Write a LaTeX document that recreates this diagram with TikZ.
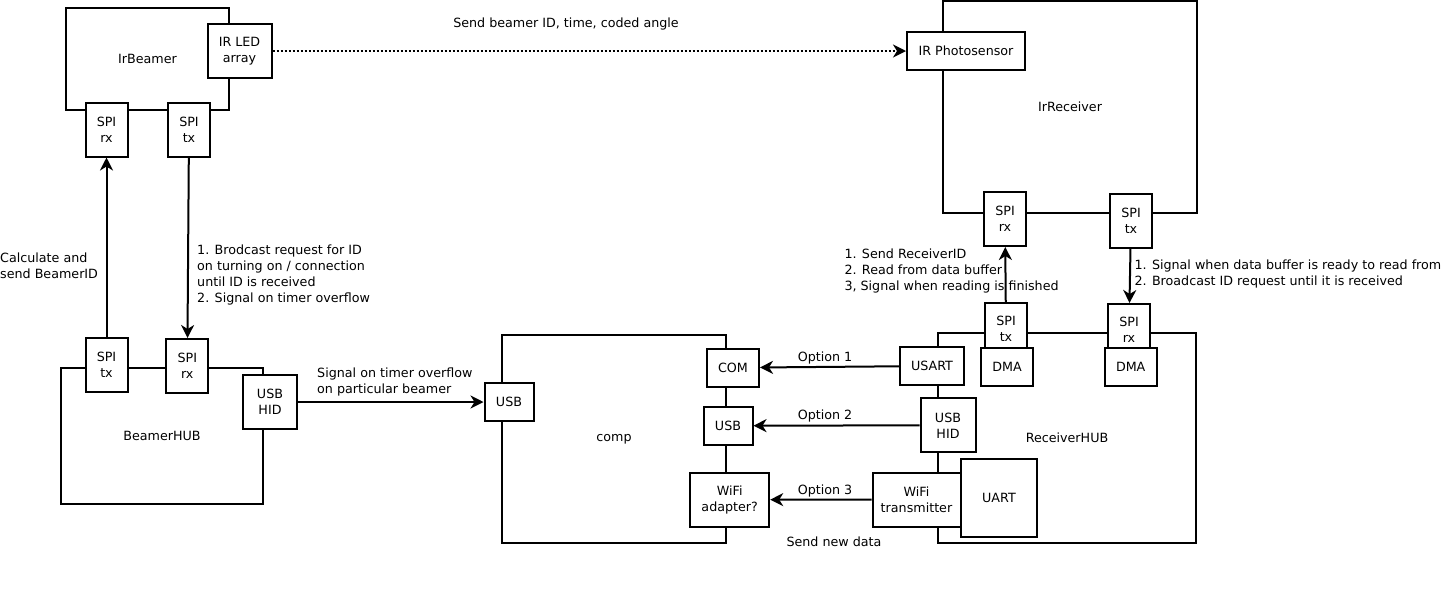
\documentclass[tikz,border=0pt]{standalone}
\usepackage{fontspec}
\setmainfont{DejaVu Sans}
\usetikzlibrary{arrows.meta}

\begin{document}
\begin{tikzpicture}[x=1pt,y=-1pt,>={Stealth[length=13pt,width=13pt,inset=4pt]},
 font=\fontsize{12.7}{16}\selectfont,
 blk/.style={draw,line width=2pt,inner sep=0pt},
 prt/.style={draw,line width=2pt,fill=white,inner sep=0pt,align=center},
 sig/.style={->,line width=2pt},
 lbl/.style={inner sep=0pt,align=left,anchor=west}]
\useasboundingbox (0,0) rectangle (1443,598);
% main units
\node[blk,minimum width=163pt,minimum height=102pt] (irbeamer) at (147.5,59) {IrBeamer};
\node[blk,minimum width=202pt,minimum height=136pt] (beamerhub) at (162,436) {BeamerHUB};
\node[blk,minimum width=224pt,minimum height=208pt] (comp) at (614,439) {comp};
\node[blk,minimum width=258pt,minimum height=210pt] (receiverhub) at (1067,438) {ReceiverHUB};
\node[blk,minimum width=254pt,minimum height=212pt] (irreceiver) at (1070,107) {IrReceiver};
% ports of IrBeamer and BeamerHUB
\node[prt,minimum width=64pt,minimum height=54pt] (irled) at (239.5,51) {IR LED\\array};
\node[prt,minimum width=42pt,minimum height=54pt] (bsrx) at (106.5,129.5) {SPI\\rx};
\node[prt,minimum width=42pt,minimum height=54pt] (bstx) at (189,129.5) {SPI\\tx};
\node[prt,minimum width=42pt,minimum height=54pt] (hubtx) at (106.5,365) {SPI\\tx};
\node[prt,minimum width=42pt,minimum height=54pt] (hubrx) at (187.3,366) {SPI\\rx};
\node[prt,minimum width=54pt,minimum height=54pt] (bhid) at (270,402) {USB\\HID};
% ports of comp
\node[prt,minimum width=49pt,minimum height=38pt] (cusb) at (509,402) {USB};
\node[prt,minimum width=52pt,minimum height=38pt] (com) at (733,367.7) {COM};
\node[prt,minimum width=49pt,minimum height=38pt] (cusb2) at (728,425.7) {USB};
\node[prt,minimum width=79pt,minimum height=54pt] (wifiad) at (729.7,499.7) {WiFi\\adapter?};
% ports of ReceiverHUB
\node[prt,minimum width=42pt,minimum height=52pt] (rtx) at (1006,329) {SPI\\tx};
\node[prt,minimum width=42pt,minimum height=52pt] (rrx) at (1129,330) {SPI\\rx};
\node[prt,minimum width=64pt,minimum height=38pt] (usart) at (932,366) {USART};
\node[prt,minimum width=52pt,minimum height=38pt] (dmaa) at (1007,366.5) {DMA};
\node[prt,minimum width=52pt,minimum height=38pt] (dmab) at (1130.7,367.3) {DMA};
\node[prt,minimum width=55pt,minimum height=54pt] (rhid) at (948,425.3) {USB\\HID};
\node[prt,minimum width=88pt,minimum height=54pt] (wifitx) at (916.5,499.5) {WiFi\\transmitter};
\node[prt,minimum width=76pt,minimum height=78pt] (uart) at (999,498) {UART};
% ports of IrReceiver
\node[prt,minimum width=118pt,minimum height=38pt] (photo) at (966,51) {IR Photosensor};
\node[prt,minimum width=42pt,minimum height=54pt] (irrx) at (1005,219) {SPI\\rx};
\node[prt,minimum width=42pt,minimum height=54pt] (irtx) at (1131,220.5) {SPI\\tx};
% links
\draw[sig,dash pattern=on 2pt off 2pt] (irled) -- (photo);
\foreach \a/\b in {hubtx/bsrx,bstx/hubrx,bhid/cusb,usart/com,rhid/cusb2,wifitx/wifiad,rtx/irrx,irtx/rrx}
  \draw[sig] (\a) -- (\b);
% link labels
\node[inner sep=0pt] (lbeam) at (566,24) {Send beamer ID, time, coded angle};
\node[lbl] (lcalc) at (0,266) {Calculate and\\send BeamerID};
\node[lbl] (lbrod) at (197,275) {1. Brodcast request for ID\\on turning on / connection\\until ID is received\\2. Signal on timer overflow};
\node[lbl] (ltimer) at (317,381.7) {Signal on timer overflow\\on particular beamer};
\node[inner sep=0pt] (lopta) at (825,357.7) {Option 1};
\node[inner sep=0pt] (loptb) at (825,415.7) {Option 2};
\node[inner sep=0pt] (loptc) at (825,490.7) {Option 3};
\node[inner sep=0pt] (lnew) at (834,542) {Send new data};
\node[lbl] (lrecv) at (844.3,271) {1. Send ReceiverID\\2. Read from data buffer\\3, Signal when reading is finished};
\node[lbl] (lready) at (1134.3,273.7) {1. Signal when data buffer is ready to read from\\2. Broadcast ID request until it is received};
\end{tikzpicture}
\end{document}
